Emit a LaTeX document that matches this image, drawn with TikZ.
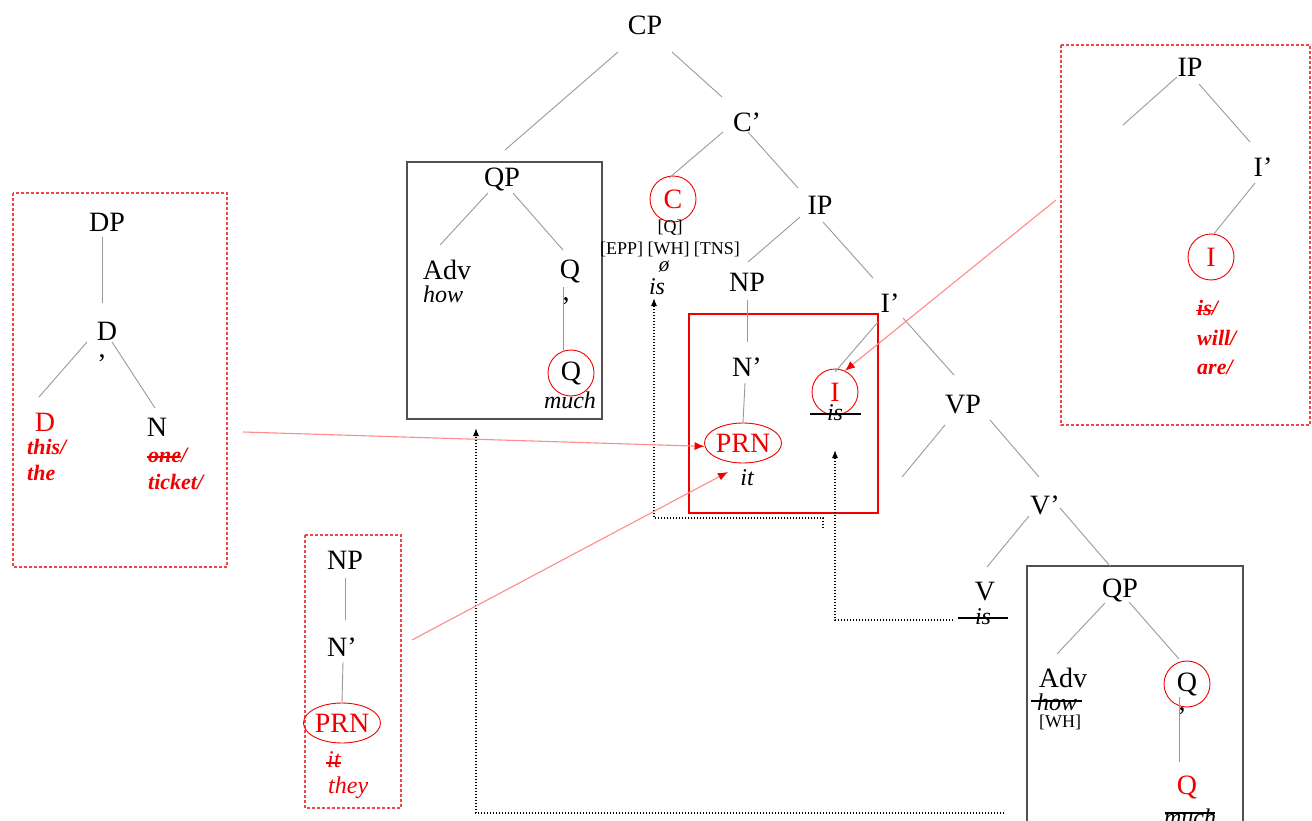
\documentclass[tikz,border=0pt]{standalone}
\usepackage{fontspec}
\setmainfont{Liberation Serif}
\usetikzlibrary{shapes.geometric,arrows.meta}
\definecolor{myred}{HTML}{F00000}
\definecolor{pinkline}{HTML}{FF8C8C}
\definecolor{dashred}{HTML}{F04545}
\definecolor{edgegray}{HTML}{9A9A9A}
\definecolor{boxgray}{HTML}{505050}
\newcommand\fbig{\fontsize{28}{30}\selectfont}
\newcommand\fital{\fontsize{24}{28}\selectfont\itshape}
\newcommand\fsmall{\fontsize{18}{20}\selectfont}
\newcommand\fredb{\fontsize{22}{26}\selectfont\bfseries\itshape}
\begin{document}
\begin{tikzpicture}[x=1pt,y=-1pt,
  lbl/.style={inner sep=0pt,font=\fbig},
  itl/.style={inner sep=0pt,font=\fital},
  sml/.style={inner sep=0pt,font=\fsmall},
  redb/.style={inner sep=0pt,font=\fredb,text=myred,anchor=west},
  redi/.style={inner sep=0pt,font=\fital,text=myred,anchor=west},
  rcirc/.style={circle,draw=myred,line width=0.9pt,minimum size=46pt,inner sep=0pt,font=\fbig},
  rell/.style={ellipse,draw=myred,line width=0.9pt,minimum width=67pt,minimum height=40pt,inner sep=0pt,font=\fbig,text=myred},
  edge/.style={draw=edgegray,line width=0.9pt},
  boxline/.style={draw=boxgray,line width=1.2pt},
  dashbox/.style={draw=dashred,line width=1.1pt,dash pattern=on 3pt off 2pt},
  strike/.style={draw=black,line width=1.8pt},
  rstrike/.style={draw=myred,line width=1.6pt},
  dotarrow/.style={draw=black,line width=1.2pt,dash pattern=on 1.2pt off 1.8pt,-{Latex[length=8pt,width=6pt]}},
  redarrow/.style={draw=pinkline,line width=1.1pt,-{Latex[length=10pt,width=8pt,color=myred]}}
]
\useasboundingbox (0,0) rectangle (1312,821);
\fill[white] (0,0) rectangle (1312,821);
\begin{scope}
\clip (0,0) rectangle (1312,821);

% ---------- boxes ----------
\draw[boxline] (407,162) rectangle (602,419);
\draw[draw=myred,line width=1.2pt] (689,314) rectangle (878,513);
\draw[boxline] (1027,830) -- (1027,566) -- (1243,566) -- (1243,830);
\draw[dashbox] (13,193) rectangle (227,567);
\draw[dashbox] (305,535) rectangle (401,808);
\draw[dashbox] (1061,45) rectangle (1310,425);

% ---------- main tree ----------
\node[lbl] (cp) at (645,25) {CP};
\node[lbl] (cbar) at (747,122) {C’};
\node[rcirc,text=myred] (c) at (673,199) {C};
\node[sml] (cq) at (670,228) {[Q]};
\node[sml] (cfeat) at (670,249) {[EPP] [WH] [TNS]};
\node[itl,font=\fontsize{21}{24}\selectfont\itshape] (cnull) at (664,267) {ø};
\node[itl] (cis) at (657,287) {is};
\node[lbl] (ip) at (820,205) {IP};
\node[lbl] (np) at (747,282) {NP};
\node[lbl] (nbar) at (747,367) {N’};
\node[rell] (prn) at (743,443) {PRN};
\node[itl] (it) at (747,478) {it};
\node[lbl] (ibar) at (890,303) {I’};
\node[rcirc,text=myred] (i) at (835,392) {I};
\node[itl] (isI) at (835,413) {is};
\node[lbl] (vp) at (963,405) {VP};
\node[lbl] (vbar) at (1045,505) {V’};
\node[lbl] (v) at (985,592) {V};
\node[itl] (isV) at (983,617) {is};
\coordinate (vpL) at (902,477);

% box A
\node[lbl] (qpA) at (502,180) {QP};
\node[lbl] (advA) at (447,270) {Adv};
\node[itl] (howA) at (443,294) {how};
\node[lbl] (qbarA) at (570,272) {Q};
\node[lbl] (commaA) at (566,301) {,};
\node[rcirc] (qA) at (571,373) {Q};
\node[itl] (muchA) at (570,400) {much};

% box B
\node[lbl] (qpB) at (1120,590) {QP};
\node[lbl] (advB) at (1063,678) {Adv};
\node[itl] (howB) at (1057,702) {how};
\node[sml] (whB) at (1060,722) {[WH]};
\node[rcirc] (qbarB) at (1187,684) {Q};
\node[lbl] (commaB) at (1182,711) {,};
\node[lbl,text=myred] (qB) at (1187,787) {Q};
\node[itl] (muchB) at (1190,817) {much};

% DP box
\node[lbl] (dp) at (107,222) {DP};
\node[lbl] (dbar) at (107,331) {D};
\node[lbl] (commaD) at (102,358) {,};
\node[lbl,text=myred] (dred) at (45,422) {D};
\node[redb] (this) at (27,447) {this/};
\node[redb] (the) at (27,473) {the};
\node[lbl] (n) at (157,427) {N};
\node[redb] (one) at (148,455) {one/};
\node[redb] (ticket) at (148,482) {ticket/};

% NP box
\node[lbl] (np2) at (345,560) {NP};
\node[lbl] (nbar2) at (342,647) {N’};
\node[rell] (prn2) at (342,723) {PRN};
\node[redi] (it2) at (327,760) {it};
\node[redi] (they) at (328,788) {they};

% right IP box
\node[lbl] (ip3) at (1190,67) {IP};
\node[lbl] (ibar3) at (1263,167) {I’};
\node[rcirc,text=myred] (i3) at (1211,257) {I};
\node[redb] (is3) at (1197,308) {is/};
\node[redb] (will3) at (1197,338) {will/};
\node[redb] (are3) at (1197,367) {are/};
\coordinate (ip3L) at (1123,125);

% ---------- tree edges ----------
\draw[edge] ([shift={(27,27)}]cp.center) -- ([shift={(-25,-25)}]cbar.center);
\draw[edge] ([shift={(-27,27)}]cp.center) -- ([shift={(3,-30)}]qpA.center);
\draw[edge] ([shift={(-24,10)}]cbar.center) -- ([shift={(-4,-21)}]c.center);
\draw[edge] ([shift={(1,10)}]cbar.center) -- ([shift={(-22,-17)}]ip.center);
\draw[edge] ([shift={(-20,12)}]ip.center) -- ([shift={(1,-20)}]np.center);
\draw[edge] ([shift={(3,17)}]ip.center) -- ([shift={(-17,-25)}]ibar.center);
\draw[edge] ([shift={(0,18)}]np.center) -- ([shift={(0,-25)}]nbar.center);
\draw[edge] ([shift={(-2,16)}]nbar.center) -- (prn.north);
\draw[edge] ([shift={(-12,19)}]ibar.center) -- ([shift={(0,-20)}]i.center);
\draw[edge] ([shift={(13,15)}]ibar.center) -- ([shift={(-9,-30)}]vp.center);
\draw[edge] ([shift={(-18,20)}]vp.center) -- (vpL);
\draw[edge] ([shift={(27,15)}]vp.center) -- ([shift={(-6,-28)}]vbar.center);
\draw[edge] ([shift={(-16,11)}]vbar.center) -- ([shift={(2,-25)}]v.center);
\draw[edge] ([shift={(15,3)}]vbar.center) -- ([shift={(-10,-24)}]qpB.center);

\draw[edge] ([shift={(-14,13)}]qpA.center) -- ([shift={(-7,-25)}]advA.center);
\draw[edge] ([shift={(11,13)}]qpA.center) -- ([shift={(-7,-22)}]qbarA.center);
\draw[edge] ([shift={(-7,15)}]qbarA.center) -- ([shift={(-8,-21)}]qA.center);

\draw[edge] ([shift={(-15,13)}]qpB.center) -- ([shift={(-6,-24)}]advB.center);
\draw[edge] ([shift={(9,12)}]qpB.center) -- ([shift={(-8,-25)}]qbarB.center);
\draw[edge] ([shift={(-8,13)}]qbarB.center) -- ([shift={(-8,-25)}]qB.center);

\draw[edge] ([shift={(-5,15)}]dp.center) -- ([shift={(-5,-28)}]dbar.center);
\draw[edge] ([shift={(-20,11)}]dbar.center) -- ([shift={(-6,-25)}]dred.center);
\draw[edge] ([shift={(5,11)}]dbar.center) -- ([shift={(-2,-19)}]n.center);

\draw[edge] ([shift={(0,18)}]np2.center) -- ([shift={(3,-27)}]nbar2.center);
\draw[edge] ([shift={(1,15)}]nbar2.center) -- (prn2.north);

\draw[edge] ([shift={(-13,10)}]ip3.center) -- (ip3L);
\draw[edge] ([shift={(9,17)}]ip3.center) -- ([shift={(-13,-25)}]ibar3.center);
\draw[edge] ([shift={(-8,16)}]ibar3.center) -- ([shift={(2,-22)}]i3.center);

% ---------- strike-through lines ----------
\draw[strike] ([shift={(-25,1)}]isI.center) -- ([shift={(26,1)}]isI.center);
\draw[strike] ([shift={(-25,1)}]isV.center) -- ([shift={(25,1)}]isV.center);
\draw[strike] ([shift={(-26,-1)}]howB.center) -- ([shift={(25,-1)}]howB.center);
\draw[strike] ([shift={(-25,-4)}]muchB.center) -- ([shift={(25,-4)}]muchB.center);
\draw[rstrike] ([shift={(-1,-5)}]one.base west) -- ([shift={(33,-5)}]one.base west);
\draw[rstrike] ([shift={(-1,-5)}]is3.base west) -- ([shift={(16,-5)}]is3.base west);
\draw[rstrike] ([shift={(-1,-5)}]it2.base west) -- ([shift={(14,-5)}]it2.base west);

% ---------- movement arrows ----------
\coordinate (d1s) at (823,528);
\coordinate (d1c) at (823,518);
\coordinate (d1t) at (654,298);
\draw[dotarrow] (d1s) -- (d1c) -| (d1t);
\coordinate (d2s) at (953,620);
\coordinate (d2t) at (835,450);
\draw[dotarrow] (d2s) -| (d2t);
\coordinate (d3s) at (1004,813);
\coordinate (d3t) at (476,428);
\draw[dotarrow] (d3s) -| (d3t);

\coordinate (a1s) at (243,432);
\draw[redarrow] (a1s) -- (prn.185);
\coordinate (a2s) at (412,640);
\draw[redarrow] (a2s) -- ([shift={(-15,29)}]prn.center);
\coordinate (a3s) at (1056,200);
\draw[redarrow] (a3s) -- (i.65);
\end{scope}
\end{tikzpicture}
\end{document}
